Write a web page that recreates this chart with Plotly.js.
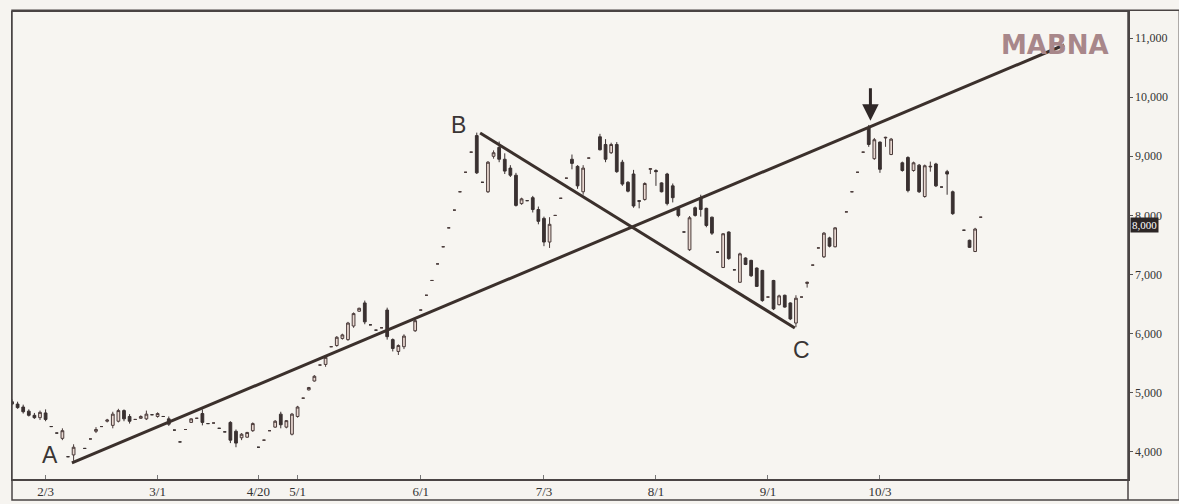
<!DOCTYPE html>
<html>
<head>
<meta charset="utf-8">
<script src="https://cdn.plot.ly/plotly-3.0.1.min.js"></script>
<style>
  html, body { margin: 0; padding: 0; background: #f6f4f0; }
  #draw { width: 1179px; height: 504px; }
</style>
</head>
<body>
<div id="draw"></div>
<script>
// trading day index (gaps = no mark on the chart)
const day = [
  0,1,2,3,4,5,6,7,8,9,10,11,13,14,15,16,17,18,19,20,
  21,22,23,24,25,26,27,28,29,30,31,32,33,34,35,36,37,38,39,40,
  41,42,43,44,45,46,47,48,49,50,51,52,53,54,55,56,57,58,59,60,
  61,62,63,64,65,66,67,68,69,70,72,73,74,75,76,77,78,79,80,81,
  82,83,84,85,86,87,88,89,90,91,92,93,94,95,96,97,98,99,100,101,
  102,103,105,106,107,108,109,110,111,112,113,114,115,116,117,118,119,120,121,122,
  123,124,125,126,127,128,129,130,131,132,133,134,135,136,137,138,139,140,141,142,
  143,144,145,146,147,149,150,151,152,153,154,155,156,157,159,160,161,162,163,164,
  165,166,167,168,170,171,172,173
]
const open = [
  4850,4810,4760,4690,4620,4580,4660,4430,4320,4230,3920,3950,4060,4220,4350,4430,4520,4450,4520,4700,
  4600,4550,4570,4560,4630,4600,4600,4560,4370,4170,4380,4500,4570,4650,4480,4490,4400,4340,4500,4350,
  4240,4250,4360,4080,4200,4360,4420,4640,4420,4300,4600,4910,5050,5200,5470,5480,5780,5800,5920,5900,
  6130,6380,6520,6150,6060,6100,6400,5900,5700,5780,6050,6400,6650,6900,7180,7470,7790,8090,8400,8730,
  9070,9350,8560,8400,9000,9150,8950,8800,8680,8200,8250,8300,8100,7950,7550,8000,8290,8630,8950,8830,
  8400,8970,9330,9200,9060,9200,8900,8560,8700,8250,8270,8780,8760,8550,8700,8500,8120,7720,7420,8130,
  8300,8120,7970,7380,7120,7720,7080,6870,7280,7240,7110,7070,6620,6900,6490,6650,6520,6180,6620,6850,
  7160,7450,7300,7620,7470,8060,8400,8730,9070,9480,8960,9240,9310,9030,8890,8980,8760,8850,8320,8820,
  8870,8480,8740,8400,7750,7580,7390,7970
]
const high = [
  4890,4850,4800,4720,4660,4700,4720,4430,4320,4400,3920,4130,4060,4220,4420,4430,4560,4680,4730,4720,
  4640,4550,4620,4700,4630,4670,4600,4600,4370,4170,4380,4570,4570,4720,4480,4490,4400,4340,4520,4380,
  4320,4340,4500,4080,4200,4360,4540,4680,4540,4660,4780,4910,5100,5300,5470,5620,5780,5960,6000,6200,
  6360,6440,6560,6150,6060,6100,6440,5920,5820,5990,6260,6400,6650,6900,7180,7470,7790,8090,8400,8730,
  9070,9400,8560,8920,9100,9250,9050,8850,8720,8300,8250,8330,8150,7980,7970,8000,8290,8630,9030,8850,
  8850,8970,9380,9290,9230,9240,8940,8580,8770,8260,8560,8800,8780,8560,8720,8540,8140,7720,7990,8150,
  8350,8130,7980,7380,7700,7730,7080,7370,7290,7250,7120,7080,6620,6910,6660,6660,6530,6650,6620,6880,
  7160,7450,7720,7640,7800,8060,8400,8730,9070,9530,9310,9250,9330,9310,8910,9000,8910,8870,8860,8910,
  8890,8480,8770,8420,7750,7590,7790,7970
]
const low = [
  4790,4730,4650,4600,4560,4540,4520,4430,4320,4200,3920,3850,4060,4220,4320,4430,4500,4400,4500,4520,
  4480,4550,4560,4540,4630,4580,4600,4440,4370,4170,4380,4490,4570,4450,4480,4490,4400,4340,4150,4080,
  4200,4240,4340,4080,4200,4360,4410,4400,4400,4280,4580,4910,5040,5190,5470,5440,5780,5780,5900,5880,
  6100,6370,6160,6150,6060,6100,5900,5700,5640,5740,6030,6400,6650,6900,7180,7470,7790,8090,8400,8730,
  9070,8700,8560,8380,8960,8900,8700,8650,8150,8180,8250,8050,7850,7480,7450,8000,8290,8630,8780,8450,
  8350,8970,9100,8900,9040,8720,8500,8390,8130,8120,8250,8700,8500,8390,8170,8220,7970,7720,7400,7980,
  7980,7800,7670,7380,7110,7250,7080,6860,7160,6960,6790,6540,6620,6400,6480,6440,6230,6110,6620,6780,
  7160,7450,7280,7460,7460,8060,8400,8730,9070,9160,8940,8720,9160,9020,8740,8390,8740,8380,8300,8740,
  8480,8480,8350,8010,7750,7450,7380,7970
]
const close = [
  4810,4750,4680,4620,4580,4670,4550,4430,4320,4360,3920,4080,4060,4220,4380,4430,4540,4640,4700,4560,
  4520,4550,4600,4640,4630,4650,4600,4470,4370,4170,4380,4560,4570,4500,4480,4490,4400,4340,4200,4150,
  4300,4330,4480,4080,4200,4360,4520,4460,4530,4640,4760,4910,5090,5280,5470,5600,5780,5940,5980,6180,
  6340,6430,6200,6150,6060,6100,5950,5750,5800,5960,6220,6400,6650,6900,7180,7470,7790,8090,8400,8730,
  9070,8720,8560,8900,9060,8950,8750,8680,8170,8280,8250,8100,7900,7550,7850,8000,8290,8630,8880,8500,
  8800,8970,9110,8950,9200,8740,8530,8410,8160,8240,8540,8790,8740,8400,8200,8300,8000,7720,7960,8000,
  8100,7830,7700,7380,7690,7270,7080,7350,7170,6980,6800,6560,6620,6420,6640,6450,6250,6600,6620,6870,
  7160,7450,7700,7480,7790,8060,8400,8730,9070,9200,9280,8780,9320,9290,8760,8420,8890,8400,8840,8830,
  8500,8480,8700,8030,7750,7460,7770,7970
]

// x axis date labels and their trading day positions
const tickDays = [6, 26, 44, 51, 73, 95, 115, 135, 155]
const tickLabels = ['2/3', '3/1', '4/20', '5/1', '6/1', '7/3', '8/1', '9/1', '10/3']

// trend lines
const lineADay = [10.7, 187.9]
const lineAPrice = [3814, 10882]
const lineBCDay = [83.6, 139.8]
const lineBCPrice = [9394, 6097]

// point labels
const pointText = ['A', 'B', 'C']
const pointDay = [6.8, 79.8, 141]
const pointPrice = [3950, 9530, 5725]

const lastPriceLabel = '8,000'
const lastPriceLevel = 7830
const arrowDay = 153.3
const arrowPrice = 9600

const main = () => {
  const candles = {
    type: 'candlestick',
    x: day, open: open, high: high, low: low, close: close,
    increasing: {line: {color: '#4a3b3a', width: 1}, fillcolor: '#ead9d2'},
    decreasing: {line: {color: '#3a3131', width: 1}, fillcolor: '#3a3131'},
    whiskerwidth: 0,
    hoverinfo: 'skip',
  }
  const trendStyle = {color: '#3b302c', width: 3}
  const lineA = {type: 'scatter', mode: 'lines', x: lineADay, y: lineAPrice, line: trendStyle, hoverinfo: 'skip'}
  const lineBC = {type: 'scatter', mode: 'lines', x: lineBCDay, y: lineBCPrice, line: trendStyle, hoverinfo: 'skip'}

  const annotations = pointText.map((t, i) => ({
    x: pointDay[i], y: pointPrice[i], xref: 'x', yref: 'y', text: t, showarrow: false,
    font: {family: 'Liberation Sans, Arial', size: 23, color: '#3a3535'},
  }))
  annotations.push({
    x: arrowDay, y: arrowPrice, xref: 'x', yref: 'y', text: '', showarrow: true,
    ax: 0, ay: -34, arrowhead: 2, arrowsize: 1.1, arrowwidth: 3, arrowcolor: '#2f2727',
  })
  annotations.push({
    x: 0.985, y: 0.93, xref: 'paper', yref: 'paper', xanchor: 'right', yanchor: 'middle',
    text: '<b>MABNA</b>', showarrow: false,
    font: {family: 'DejaVu Sans', size: 26, color: '#a8878a'},
  })
  annotations.push({
    x: 1.002, y: lastPriceLevel, xref: 'paper', yref: 'y', xanchor: 'left', text: lastPriceLabel,
    showarrow: false, bgcolor: '#2c2626', borderpad: 1,
    font: {family: 'Liberation Serif', size: 11, color: '#ffffff'},
  })

  const layout = {
    width: 1179, height: 504,
    margin: {l: 12, r: 51, t: 12, b: 25},
    paper_bgcolor: '#f6f4f0', plot_bgcolor: '#f7f5f1',
    showlegend: false,
    xaxis: {
      range: [0, 199.3], rangeslider: {visible: false},
      tickmode: 'array', tickvals: tickDays, ticktext: tickLabels,
      ticks: 'inside', ticklen: 4, tickcolor: '#777',
      showgrid: false, zeroline: false,
      showline: true, mirror: true, linecolor: '#4a4444', linewidth: 1.5,
      tickfont: {family: 'Liberation Serif', size: 13, color: '#333'},
    },
    yaxis: {
      side: 'right', range: [3543, 11440],
      tickmode: 'linear', tick0: 0, dtick: 1000, tickformat: ',d',
      ticks: 'outside', ticklen: 3, tickcolor: '#555',
      showgrid: false, zeroline: false,
      showline: true, mirror: true, linecolor: '#4a4444', linewidth: 1.5,
      tickfont: {family: 'Liberation Serif', size: 12, color: '#333'},
    },
    shapes: [
      {type: 'rect', xref: 'paper', yref: 'paper', x0: 0, x1: 1.046, y0: -0.045, y1: 1.004,
        line: {color: '#4a4444', width: 1.5}},
      {type: 'line', xref: 'paper', yref: 'paper', x0: 1, x1: 1, y0: -0.045, y1: 1.004,
        line: {color: '#4a4444', width: 1.5}},
    ],
    annotations: annotations,
  }
  Plotly.newPlot('draw', [candles, lineA, lineBC], layout, {displayModeBar: false, staticPlot: true})
}

main()
</script>
</body>
</html>
